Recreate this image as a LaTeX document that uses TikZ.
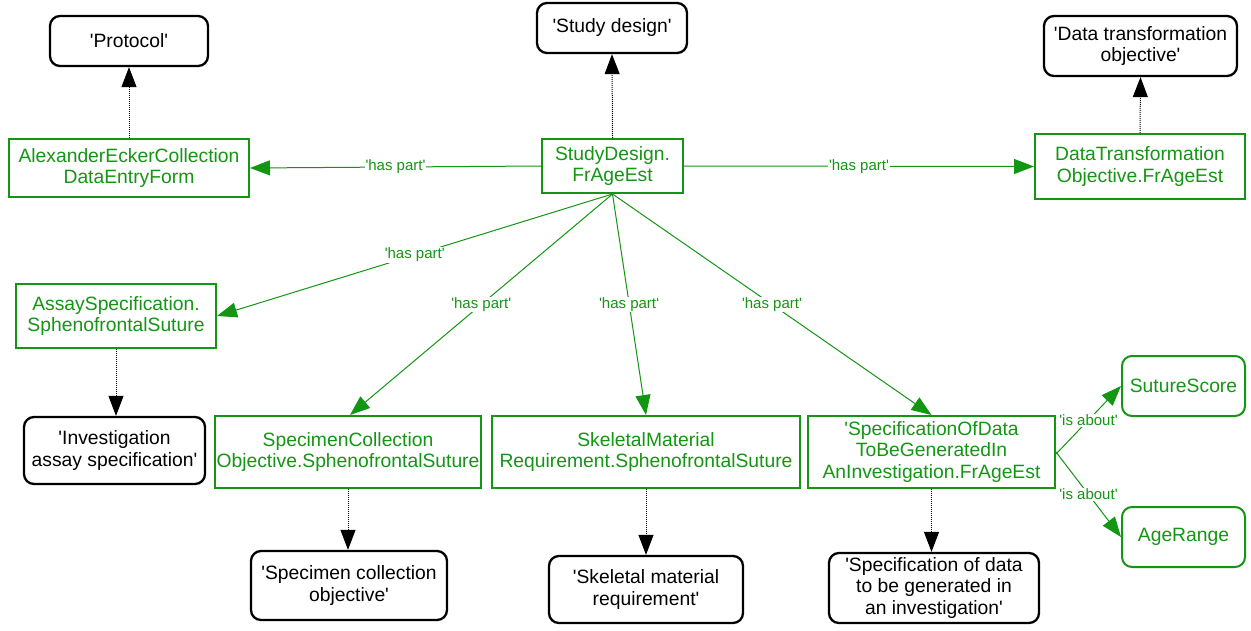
\documentclass[tikz,border=0pt]{standalone}
\usepackage{fontspec}
\setmainfont{Liberation Sans}
\usetikzlibrary{arrows.meta}
\definecolor{gr}{RGB}{20,150,20}
\newcommand\qq{\textquotesingle}
\begin{document}
\begin{tikzpicture}[x=1pt,y=-1pt,
  gbox/.style={draw=gr,line width=2pt,text=gr,align=center,inner sep=2pt,
    font=\fontsize{19.3}{21.5}\selectfont},
  bbox/.style={draw=black,line width=2.3pt,rounded corners=10pt,align=center,inner sep=2pt,
    font=\fontsize{19.3}{21.5}\selectfont},
  gobox/.style={draw=gr,line width=2pt,rounded corners=10pt,text=gr,align=center,inner sep=2pt,
    font=\fontsize{19.3}{21.5}\selectfont},
  haspart/.style={draw=gr,line width=1pt,-{Triangle[length=20pt,width=15pt]},fill=none},
  lab/.style={fill=white,text=gr,inner sep=1pt,font=\fontsize{15}{17}\selectfont},
  typeof/.style={draw=black,line width=1pt,densely dotted,-{Triangle[length=20pt,width=15pt]}}
]
\useasboundingbox (0,0) rectangle (1251,630);
\fill[white] (0,0) rectangle (1251,630);

\node[bbox,minimum width=158pt,minimum height=50pt] (protocol) at (129,41) {\qq Protocol\qq};
\node[gbox,minimum width=240pt,minimum height=58pt] (aeck) at (129,168) {AlexanderEckerCollection\\DataEntryForm};
\node[bbox,minimum width=150pt,minimum height=50pt] (sd) at (612,28) {\qq Study design\qq};
\node[gbox,minimum width=141pt,minimum height=54pt] (sdf) at (612.5,166) {StudyDesign.\\FrAgeEst};
\node[bbox,minimum width=193pt,minimum height=60pt] (dto) at (1140.5,46) {\qq Data transformation\\objective\qq};
\node[gbox,minimum width=210pt,minimum height=65pt] (dtf) at (1140,166.5) {DataTransformation\\Objective.FrAgeEst};
\node[gbox,minimum width=200pt,minimum height=64pt] (assay) at (116,316) {AssaySpecification.\\SphenofrontalSuture};
\node[bbox,minimum width=181pt,minimum height=67pt] (inv) at (114.5,450.5) {\qq Investigation\\assay specification\qq};
\node[gbox,minimum width=266pt,minimum height=72pt] (spec) at (348,452) {SpecimenCollection\\Objective.SphenofrontalSuture};
\node[gbox,minimum width=308pt,minimum height=72pt] (skel) at (646,452) {SkeletalMaterial\\Requirement.SphenofrontalSuture};
\node[gbox,minimum width=247pt,minimum height=72pt] (sodt) at (931.5,452) {\qq SpecificationOfData\\ToBeGeneratedIn\\AnInvestigation.FrAgeEst};
\node[gobox,minimum width=123pt,minimum height=60pt] (suture) at (1183.5,386) {SutureScore};
\node[gobox,minimum width=123pt,minimum height=60pt] (age) at (1183.5,537) {AgeRange};
\node[bbox,minimum width=196pt,minimum height=69pt] (sco) at (349,585.5) {\qq Specimen collection\\objective\qq};
\node[bbox,minimum width=194pt,minimum height=67pt] (smr) at (646,589.5) {\qq Skeletal material\\requirement\qq};
\node[bbox,minimum width=210pt,minimum height=70pt] (sdi) at (934,588) {\qq Specification of data\\to be generated in\\an investigation\qq};

% type-of (dotted) arrows
\draw[typeof] (aeck.north) -- (protocol.south);
\draw[typeof] (sdf.north) -- (sd.south);
\draw[typeof] (dtf.north) -- (dto.south);
\draw[typeof] (assay.south) -- (assay.south |- inv.north);
\draw[typeof] (spec.south) -- (spec.south |- sco.north);
\draw[typeof] (skel.south) -- (skel.south |- smr.north);
\draw[typeof] (sodt.south) -- (sodt.south |- sdi.north);

% has part
\draw[haspart] (sdf.west) -- node[lab,midway]{\qq has part\qq} (aeck.east);
\draw[haspart] (sdf.east) -- node[lab,midway]{\qq has part\qq} (dtf.east -| dtf.west);
\draw[haspart] (sdf.south) -- node[lab,midway]{\qq has part\qq} (assay.east);
\draw[haspart] (sdf.south) -- node[lab,midway]{\qq has part\qq} ([xshift=2pt]spec.north);
\draw[haspart] (sdf.south) -- node[lab,midway]{\qq has part‘} (skel.north);
\draw[haspart] (sdf.south) -- node[lab,midway]{\qq has part\qq} (sodt.north);

% is about
\draw[haspart] ([yshift=-2pt]sodt.east) -- node[lab,midway]{\qq is about\qq} (suture.west);
\draw[haspart] (sodt.east) -- node[lab,midway]{\qq is about\qq} (age.west);
\end{tikzpicture}
\end{document}
